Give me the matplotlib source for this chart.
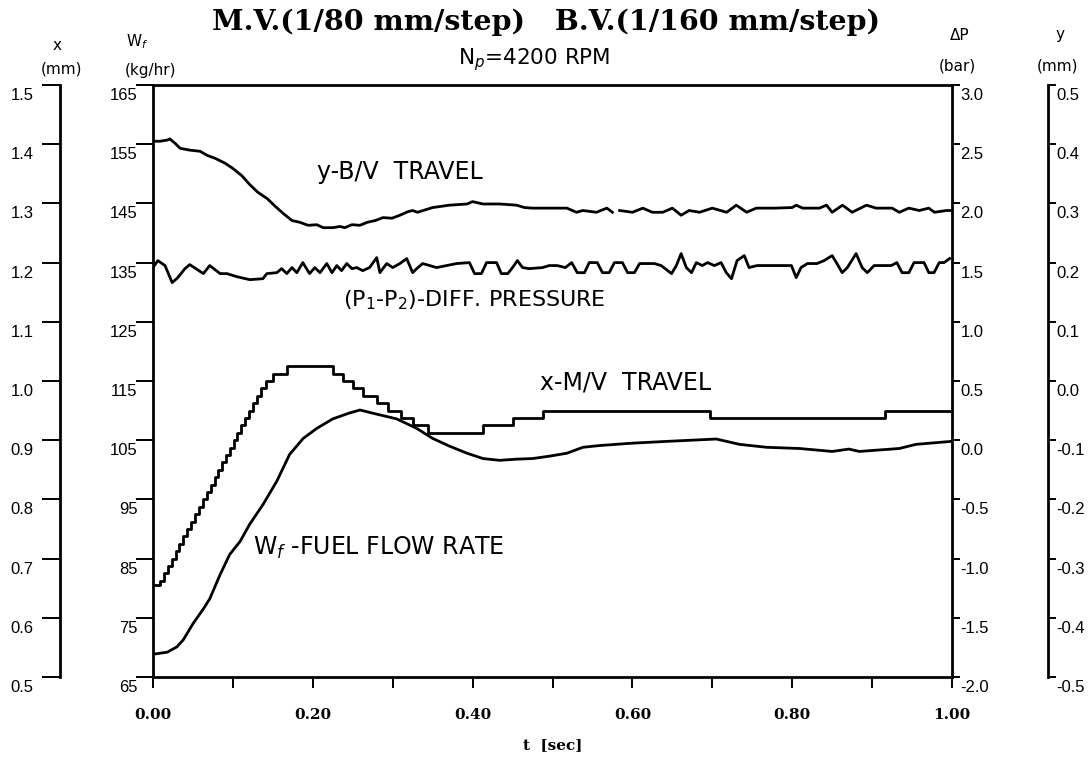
import matplotlib
matplotlib.use("Agg")
import matplotlib.pyplot as plt
from matplotlib.transforms import ScaledTranslation

# ---------------------------------------------------------------- data
# fuel flow rate W_f [kg/hr]
t_wf = [0.000, 0.003, 0.018, 0.030, 0.038, 0.050, 0.063, 0.071, 0.084, 0.096,
        0.109, 0.121, 0.138, 0.155, 0.171, 0.188, 0.205, 0.225, 0.246, 0.259,
        0.280, 0.305, 0.330, 0.350, 0.371, 0.393, 0.413, 0.434, 0.455, 0.475,
        0.496, 0.518, 0.538, 0.559, 0.600, 0.643, 0.705, 0.734, 0.768, 0.809,
        0.850, 0.871, 0.884, 0.934, 0.955, 0.999]
wf = [69.0, 68.9, 69.2, 70.1, 71.3, 74.0, 76.5, 78.2, 82.3, 85.7,
      87.9, 90.8, 94.2, 98.1, 102.6, 105.3, 107.0, 108.6, 109.6, 110.1,
      109.4, 108.6, 107.0, 105.3, 104.0, 102.8, 101.9, 101.6, 101.8, 101.9,
      102.3, 102.8, 103.8, 104.1, 104.5, 104.8, 105.2, 104.3, 103.8, 103.6,
      103.1, 103.5, 103.1, 103.6, 104.3, 104.8]

# differential pressure (P1 - P2) [bar]
t_dp = [0.000, 0.006, 0.015, 0.024, 0.031, 0.040, 0.046, 0.063, 0.071, 0.084,
        0.0925, 0.105, 0.121, 0.1375, 0.1425, 0.155, 0.161, 0.1675, 0.174, 0.180,
        0.1875, 0.196, 0.2025, 0.209, 0.2175, 0.224, 0.230, 0.236, 0.2425, 0.249,
        0.255, 0.2625, 0.271, 0.280, 0.284, 0.2925, 0.300, 0.309, 0.3175, 0.325,
        0.330, 0.3375, 0.355, 0.3675, 0.380, 0.396, 0.4025, 0.411, 0.4175, 0.430,
        0.436, 0.444, 0.450, 0.456, 0.4625, 0.471, 0.4875, 0.496, 0.506, 0.516,
        0.524, 0.531, 0.540, 0.546, 0.556, 0.5625, 0.571, 0.5775, 0.5875, 0.594,
        0.6025, 0.609, 0.619, 0.6275, 0.636, 0.649, 0.655, 0.661, 0.6675, 0.674,
        0.680, 0.6875, 0.694, 0.7025, 0.711, 0.7175, 0.724, 0.731, 0.740, 0.746,
        0.756, 0.781, 0.799, 0.805, 0.811, 0.819, 0.831, 0.840, 0.850, 0.856,
        0.8625, 0.869, 0.880, 0.8875, 0.894, 0.9025, 0.915, 0.924, 0.931, 0.9375,
        0.946, 0.9525, 0.965, 0.971, 0.9775, 0.984, 0.990, 0.997]
dp = [1.458, 1.517, 1.475, 1.331, 1.373, 1.449, 1.483, 1.407, 1.475, 1.407,
      1.407, 1.381, 1.356, 1.364, 1.407, 1.415, 1.449, 1.407, 1.458, 1.415,
      1.500, 1.407, 1.458, 1.415, 1.492, 1.415, 1.475, 1.432, 1.492, 1.449,
      1.458, 1.432, 1.458, 1.542, 1.415, 1.492, 1.458, 1.492, 1.534, 1.415,
      1.449, 1.492, 1.458, 1.475, 1.492, 1.500, 1.407, 1.407, 1.500, 1.500,
      1.407, 1.407, 1.458, 1.517, 1.458, 1.449, 1.458, 1.475, 1.475, 1.458,
      1.500, 1.415, 1.415, 1.500, 1.500, 1.415, 1.415, 1.500, 1.500, 1.415,
      1.415, 1.492, 1.492, 1.492, 1.475, 1.407, 1.475, 1.576, 1.458, 1.415,
      1.500, 1.475, 1.500, 1.475, 1.500, 1.415, 1.364, 1.517, 1.559, 1.458,
      1.475, 1.475, 1.475, 1.373, 1.458, 1.492, 1.492, 1.517, 1.559, 1.492,
      1.415, 1.458, 1.576, 1.458, 1.415, 1.475, 1.475, 1.475, 1.500, 1.415,
      1.415, 1.500, 1.500, 1.415, 1.415, 1.500, 1.500, 1.534]

# main valve travel x [mm], stepper positions (1/80 mm per step)
t_xmv = [0.000, 0.009, 0.014, 0.019, 0.024, 0.029, 0.033, 0.038, 0.043, 0.048,
         0.053, 0.057, 0.062, 0.067, 0.072, 0.077, 0.081, 0.086, 0.091, 0.096,
         0.101, 0.105, 0.110, 0.115, 0.120, 0.125, 0.130, 0.135, 0.142, 0.150,
         0.1675, 0.225, 0.2375, 0.250, 0.2625, 0.280, 0.294, 0.310, 0.325, 0.344,
         0.4125, 0.450, 0.4875, 0.6975, 0.916, 1.000]
x_mv = [0.655, 0.6625, 0.675, 0.6875, 0.700, 0.7125, 0.725, 0.7375, 0.750, 0.7625,
        0.775, 0.7875, 0.800, 0.8125, 0.825, 0.8375, 0.850, 0.8625, 0.875, 0.8875,
        0.900, 0.9125, 0.925, 0.9375, 0.950, 0.9625, 0.975, 0.9875, 1.000, 1.0125,
        1.025, 1.0125, 1.000, 0.9875, 0.975, 0.9625, 0.950, 0.9375, 0.925, 0.9125,
        0.925, 0.9375, 0.950, 0.9375, 0.950, 0.950]

# bypass valve travel y [mm]; nan marks a break in the trace
nan = float("nan")
t_ybv = [0.000, 0.009, 0.018, 0.021, 0.028, 0.034, 0.046, 0.059, 0.068, 0.078,
         0.090, 0.100, 0.111, 0.121, 0.131, 0.143, 0.153, 0.163, 0.174, 0.184,
         0.194, 0.205, 0.213, 0.225, 0.234, 0.240, 0.249, 0.259, 0.268, 0.278,
         0.288, 0.299, 0.309, 0.319, 0.325, 0.331, 0.350, 0.371, 0.393, 0.400,
         0.413, 0.434, 0.455, 0.465, 0.475, 0.496, 0.518, 0.530, 0.538, 0.555,
         0.568, 0.575, 0.580, 0.584, 0.600, 0.613, 0.625, 0.638, 0.650, 0.661,
         0.671, 0.684, 0.700, 0.718, 0.730, 0.743, 0.755, 0.778, 0.800, 0.805,
         0.813, 0.834, 0.843, 0.850, 0.863, 0.875, 0.893, 0.905, 0.925, 0.934,
         0.946, 0.959, 0.971, 0.978, 0.993, 0.999]
y_bv = [0.405, 0.405, 0.407, 0.409, 0.401, 0.393, 0.390, 0.388, 0.381, 0.376,
        0.368, 0.359, 0.347, 0.332, 0.319, 0.308, 0.295, 0.283, 0.271, 0.268,
        0.263, 0.264, 0.259, 0.259, 0.261, 0.259, 0.264, 0.263, 0.268, 0.271,
        0.276, 0.275, 0.280, 0.286, 0.288, 0.285, 0.293, 0.297, 0.299, 0.303,
        0.299, 0.299, 0.297, 0.293, 0.292, 0.292, 0.292, 0.285, 0.288, 0.285,
        0.292, 0.285, nan, 0.288, 0.285, 0.292, 0.285, 0.285, 0.292, 0.280,
        0.288, 0.285, 0.292, 0.285, 0.297, 0.285, 0.292, 0.292, 0.293, 0.297,
        0.292, 0.292, 0.297, 0.285, 0.297, 0.285, 0.297, 0.292, 0.292, 0.285,
        0.292, 0.288, 0.292, 0.285, 0.288, 0.288]

# axis ticks
t_ticks = [0.0, 0.1, 0.2, 0.3, 0.4, 0.5, 0.6, 0.7, 0.8, 0.9, 1.0]
t_ticklabels = ["0.00", "", "0.20", "", "0.40", "", "0.60", "", "0.80", "", "1.00"]
wf_ticks = [65, 75, 85, 95, 105, 115, 125, 135, 145, 155, 165]
dp_ticks = [-2.0, -1.5, -1.0, -0.5, 0.0, 0.5, 1.0, 1.5, 2.0, 2.5, 3.0]
dp_ticklabels = ["-2.0", "-1.5", "-1.0", "-0.5", "0.0", "0.5", "1.0", "1.5",
                 "2.0", "2.5", "3.0"]
x_ticks = [0.5, 0.6, 0.7, 0.8, 0.9, 1.0, 1.1, 1.2, 1.3, 1.4, 1.5]
x_ticklabels = ["0.5", "0.6", "0.7", "0.8", "0.9", "1.0", "1.1", "1.2", "1.3",
                "1.4", "1.5"]
y_ticks = [-0.5, -0.4, -0.3, -0.2, -0.1, 0.0, 0.1, 0.2, 0.3, 0.4, 0.5]
y_ticklabels = ["-0.5", "-0.4", "-0.3", "-0.2", "-0.1", "0.0", "0.1", "0.2",
                "0.3", "0.4", "0.5"]

# ---------------------------------------------------------------- figure
W, H = 1090, 758
fig = plt.figure(figsize=(W / 100, H / 100), dpi=100)
plt.rcParams["font.family"] = ["DejaVu Sans"]
LW = 2.0
tick_font = dict(family="Liberation Sans", size=12)


def fx(px):
    return px / W


def fy(py):
    return 1 - py / H


ax = fig.add_axes([fx(153), fy(677), fx(952) - fx(153), fy(85) - fy(677)])
ax.set_xlim(0, 1)
ax.set_ylim(65, 165)
for s in ax.spines.values():
    s.set_linewidth(LW)
ax.spines["right"].set_visible(False)

ax_dp = ax.twinx()
ax_dp.set_ylim(-2, 3)
ax_x = ax.twinx()
ax_x.set_ylim(0.5, 1.5)
ax_y = ax.twinx()
ax_y.set_ylim(-0.5, 0.5)
for a in (ax_dp, ax_x, ax_y):
    for s in a.spines.values():
        s.set_visible(False)

ax_dp.spines["right"].set_visible(True)
ax_dp.spines["right"].set_linewidth(LW)

ax_x.yaxis.set_ticks_position("left")
ax_x.yaxis.set_label_position("left")
ax_x.spines["left"].set_visible(True)
ax_x.spines["left"].set_linewidth(LW)
ax_x.spines["left"].set_position(("outward", 67))

ax_y.spines["right"].set_visible(True)
ax_y.spines["right"].set_linewidth(LW)
ax_y.spines["right"].set_position(("outward", 69))

# time axis
ax.set_xticks(t_ticks)
ax.set_xticklabels(t_ticklabels, family="DejaVu Serif", fontweight="bold", size=11)
ax.tick_params(axis="x", direction="out", length=8, width=1.4, pad=14)

# vertical scales
ax.set_yticks(wf_ticks)
ax.set_yticklabels([str(v) for v in wf_ticks], **tick_font)
ax.tick_params(axis="y", direction="out", length=12, width=1.4, pad=-1)

ax_dp.set_yticks(dp_ticks)
ax_dp.set_yticklabels(dp_ticklabels, **tick_font)
ax_dp.tick_params(axis="y", direction="out", length=6, width=1.4, pad=0)

ax_x.set_yticks(x_ticks)
ax_x.set_yticklabels(x_ticklabels, **tick_font)
ax_x.tick_params(axis="y", direction="out", length=13, width=1.4, pad=6)

ax_y.set_yticks(y_ticks)
ax_y.set_yticklabels(y_ticklabels, **tick_font)
ax_y.tick_params(axis="y", direction="out", length=6, width=1.4, pad=0)

shift = ScaledTranslation(0, -0.09, fig.dpi_scale_trans)
for a in (ax, ax_dp, ax_x, ax_y):
    for lbl in a.get_yticklabels():
        lbl.set_transform(lbl.get_transform() + shift)

# traces
line_kw = dict(color="black", lw=LW, solid_joinstyle="round")
ax.plot(t_wf, wf, **line_kw)
ax_dp.plot(t_dp, dp, **line_kw)
ax_x.plot(t_xmv, x_mv, drawstyle="steps-post", **line_kw)
ax_y.plot(t_ybv, y_bv, **line_kw)

# trace annotations
ann = dict(size=17, color="black", va="center", ha="left")
fig.text(fx(317), fy(172), "y-B/V  TRAVEL", **ann)
fig.text(fx(343), fy(300), "(P$_1$-P$_2$)-DIFF. PRESSURE", **{**ann, "size": 16})
fig.text(fx(540), fy(383), "x-M/V  TRAVEL", **ann)
fig.text(fx(253), fy(548), "W$_f$ -FUEL FLOW RATE", **ann)

# scale headings
head = dict(size=11, ha="center", va="center", color="black")
fig.text(fx(57), fy(45), "x", **head)
fig.text(fx(62), fy(69), "(mm)", **head)
fig.text(fx(137), fy(42), "W$_f$", **head)
fig.text(fx(151), fy(70), "(kg/hr)", **head)
fig.text(fx(960), fy(35), "ΔP", **head)
fig.text(fx(957), fy(66), "(bar)", **head)
fig.text(fx(1060), fy(35), "y", **head)
fig.text(fx(1057), fy(66), "(mm)", **head)

# titles
fig.text(fx(546), fy(22), "M.V.(1/80 mm/step)   B.V.(1/160 mm/step)",
         family="DejaVu Serif", fontweight="bold", size=20.5, ha="center", va="center")
fig.text(fx(534), fy(60), "N$_p$=4200 RPM", size=15.5, ha="center", va="center")
fig.text(fx(553), fy(745), "t  [sec]", family="DejaVu Serif", fontweight="bold",
         size=11, ha="center", va="center")

fig.savefig("out.png", dpi=100)
